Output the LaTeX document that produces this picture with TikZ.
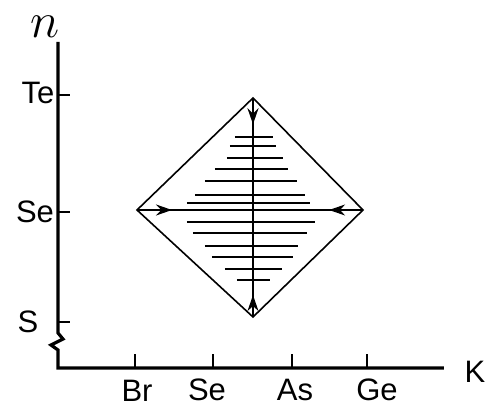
\documentclass[tikz,border=0pt]{standalone}
\usepackage{fontspec}
\setmainfont{Liberation Sans}
\usetikzlibrary{arrows.meta,decorations.markings}
\begin{document}
\begin{tikzpicture}[x=0.5pt,y=-0.5pt,
  axis/.style={line width=1.6pt},
  tick/.style={line width=1pt},
  edge/.style={line width=0.8pt},
  hatch/.style={line width=1.2pt},
  lbl/.style={font=\fontsize{15.5}{17}\selectfont, inner sep=0pt},
  mid/.style={line width=0.9pt, postaction={decorate}},
]
\useasboundingbox (0,0) rectangle (489,407);
% axes
\coordinate (ytop) at (58,42);
\coordinate (orig) at (58,368);
\coordinate (xend) at (444,368);
\draw[axis] (ytop) -- (58,333) -- (63,339) -- (51,345) -- (58,350) -- (orig) -- (xend);
% y ticks
\foreach \yy/\nm in {95/Te,212/SeY,322/S}{
  \coordinate (ty\nm) at (58,\yy);
  \draw[tick] (ty\nm) -- ++(12,0);
}
% x ticks
\foreach \xx/\nm in {135/Br,213/Se,292/As,367/Ge}{
  \coordinate (tx\nm) at (\xx,368);
  \draw[tick] (tx\nm) -- ++(0,-14);
}
% labels
\node[font=\fontsize{24}{26}\selectfont, inner sep=0pt] (n) at (45,27) {$n$};
\node[lbl] (lTe) at (38,93) {Te};
\node[lbl] (lSe) at (35,212) {Se};
\node[lbl] (lS) at (28,322) {S};
\node[lbl] (lBr) at (137,391) {Br};
\node[lbl] (lSeX) at (207,390) {Se};
\node[lbl] (lAs) at (295,390) {As};
\node[lbl] (lGe) at (377,390) {Ge};
\node[lbl] (lK) at (475,372) {K};
% diamond
\coordinate (T) at (253,98);
\coordinate (B) at (253,317);
\coordinate (L) at (137,210);
\coordinate (R) at (363,210);
\draw[edge] (T) -- (R) -- (B) -- (L) -- cycle;
% hatching
\foreach \yy/\xa/\xb in {137/235/273,146/230/276,158/227/283,169/215/288,181/205/297,195/195/305,203/187/310,222/187/315,233/193/307,246/205/298,257/212/293,269/225/282,280/237/270}{
  \draw[hatch] (\xa,\yy) -- (\xb,\yy);
}
% arrows
\draw[mid, decoration={markings,
   mark=at position 0.12 with {\arrow{Stealth[length=8pt,width=5.5pt]}},
   mark=at position 0.9 with {\arrowreversed{Stealth[length=8pt,width=5.5pt]}}}] (T) -- (B);
\draw[mid, decoration={markings,
   mark=at position 0.155 with {\arrow{Stealth[length=8pt,width=5.5pt]}},
   mark=at position 0.85 with {\arrowreversed{Stealth[length=8pt,width=5.5pt]}}}] (L) -- (R);
\end{tikzpicture}
\end{document}
